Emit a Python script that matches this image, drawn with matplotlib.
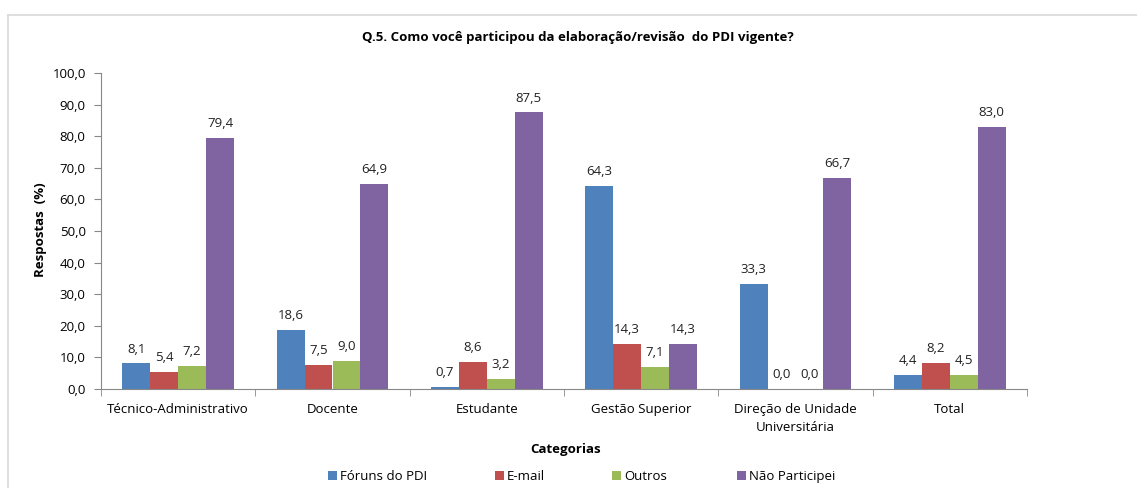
import matplotlib
matplotlib.use("Agg")
import matplotlib.pyplot as plt
import numpy as np
from matplotlib.patches import Rectangle
from matplotlib.lines import Line2D

categories = ["Técnico-Administrativo", "Docente", "Estudante", "Gestão Superior",
              "Direção de Unidade\nUniversitária", "Total"]
series_names = ["Fóruns do PDI", "E-mail", "Outros", "Não Participei"]
foruns = [8.1, 18.6, 0.7, 64.3, 33.3, 4.4]
email = [5.4, 7.5, 8.6, 14.3, 0.0, 8.2]
outros = [7.2, 9.0, 3.2, 7.1, 0.0, 4.5]
nao_participei = [79.4, 64.9, 87.5, 14.3, 66.7, 83.0]
colors = ["#4F81BD", "#C0504D", "#9BBB59", "#8064A2"]

title = "Q.5. Como você participou da elaboração/revisão  do PDI vigente?"
ylabel = "Respostas  (%)"
xlabel = "Categorias"

plt.rcParams['font.family'] = ['Open Sans', 'DejaVu Sans']

fig = plt.figure(figsize=(11.37, 4.88), dpi=100)
W, H = 1137, 488
# chart frame
fig.add_artist(Line2D([8 / W, 1.0], [1 - 15 / H, 1 - 15 / H], transform=fig.transFigure,
                      color="#d9d9d9", lw=1.2))
fig.add_artist(Line2D([8 / W, 8 / W], [0, 1 - 15 / H], transform=fig.transFigure,
                      color="#d9d9d9", lw=1.2))

ax = fig.add_axes([101 / W, 1 - 389 / H, (1027 - 101) / W, (389 - 73) / H])

data = [foruns, email, outros, nao_participei]
x = np.arange(len(categories))
bw = 0.181
for i, (vals, name, c) in enumerate(zip(data, series_names, colors)):
    pos = x + (i - 1.5) * bw
    ax.bar(pos, vals, width=bw, color=c, label=name, zorder=2)
    for p, v in zip(pos, vals):
        ax.text(p, v + 2.5, f"{v:.1f}".replace(".", ","), ha="center", va="bottom",
                fontsize=9.5, color="#222222")

ax.set_xlim(-0.5, len(categories) - 0.5)
ax.set_ylim(0, 100)
ax.set_yticks(np.arange(0, 101, 10))
ax.set_yticklabels([f"{v:.1f}".replace(".", ",") for v in np.arange(0, 101, 10)],
                   fontsize=9.5)
ax.set_xticks(x)
ax.set_xticklabels(categories, fontsize=9.5, linespacing=1.5)
ax.set_xticks(np.arange(-0.5, len(categories)), minor=True)
ax.tick_params(axis="x", which="major", length=0, pad=10)
ax.tick_params(axis="x", which="minor", length=5, color="#888888")
ax.tick_params(axis="y", length=5, color="#888888", pad=6)
for s in ["top", "right"]:
    ax.spines[s].set_visible(False)
ax.spines["left"].set_color("#888888")
ax.spines["bottom"].set_color("#888888")

fig.text(578 / W, 1 - 38 / H, title, ha="center", va="center", fontsize=9.5, fontweight="bold")
fig.text(40 / W, 1 - 230 / H, ylabel, ha="center", va="center", rotation=90,
         fontsize=9.5, fontweight="bold")
fig.text(566 / W, 1 - 450 / H, xlabel, ha="center", va="center", fontsize=9.5, fontweight="bold")

# legend (manual placement to mimic Excel spacing)
leg_x = [328, 495, 612, 737]
for lx, name, c in zip(leg_x, series_names, colors):
    fig.add_artist(Rectangle((lx / W, 1 - 480 / H), 9 / W, 9 / H, transform=fig.transFigure,
                             facecolor=c, edgecolor="none"))
    fig.text((lx + 12) / W, 1 - 480 / H, name, ha="left", va="baseline", fontsize=9.5)

fig.savefig("out.png", dpi=100)
